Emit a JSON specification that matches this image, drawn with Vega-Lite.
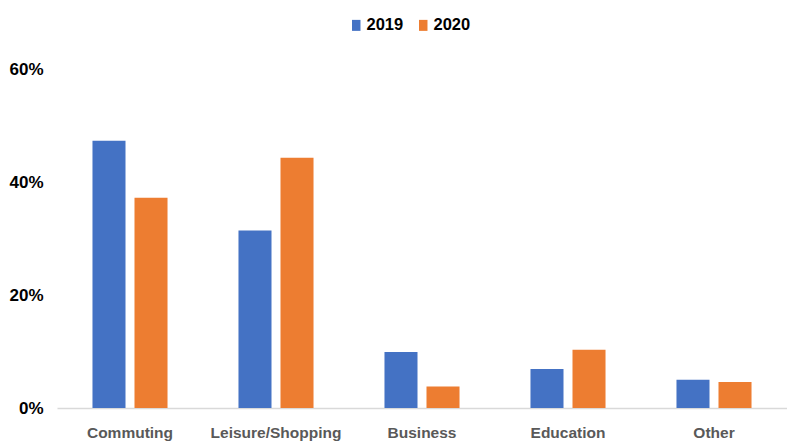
{
  "$schema": "https://vega.github.io/schema/vega-lite/v6.json",
  "width": 730,
  "height": 339,
  "autosize": {"type": "none"},
  "padding": {"left": 57, "top": 69, "right": 0, "bottom": 33},
  "background": "white",
  "config": {
    "view": {"stroke": null},
    "font": "Liberation Sans, Arial"
  },
  "data": {
    "values": [
      {"category": "Commuting", "year": "2019", "share": 0.473},
      {"category": "Commuting", "year": "2020", "share": 0.372},
      {"category": "Leisure/Shopping", "year": "2019", "share": 0.314},
      {"category": "Leisure/Shopping", "year": "2020", "share": 0.443},
      {"category": "Business", "year": "2019", "share": 0.099},
      {"category": "Business", "year": "2020", "share": 0.038},
      {"category": "Education", "year": "2019", "share": 0.069},
      {"category": "Education", "year": "2020", "share": 0.103},
      {"category": "Other", "year": "2019", "share": 0.050},
      {"category": "Other", "year": "2020", "share": 0.046}
    ]
  },
  "mark": {"type": "bar"},
  "encoding": {
    "x": {
      "field": "category",
      "type": "nominal",
      "sort": ["Commuting", "Leisure/Shopping", "Business", "Education", "Other"],
      "scale": {"paddingInner": 0.486, "paddingOuter": 0.243},
      "axis": {
        "title": null,
        "labelAngle": 0,
        "ticks": false,
        "domainColor": "#d9d9d9",
        "domainWidth": 1.5,
        "labelFont": "Liberation Sans, Arial",
        "labelFontSize": 15.5,
        "labelFontWeight": "bold",
        "labelColor": "#595959",
        "labelPadding": 17
      }
    },
    "xOffset": {
      "field": "year",
      "type": "nominal",
      "scale": {"paddingInner": 0.214, "paddingOuter": 0}
    },
    "y": {
      "field": "share",
      "type": "quantitative",
      "scale": {"domain": [0, 0.6], "nice": false},
      "axis": {
        "title": null,
        "values": [0, 0.2, 0.4, 0.6],
        "format": ".0%",
        "domain": false,
        "ticks": false,
        "grid": false,
        "labelFont": "Liberation Sans, Arial",
        "labelFontSize": 17,
        "labelFontWeight": "bold",
        "labelColor": "#000000",
        "labelPadding": 14
      }
    },
    "color": {
      "field": "year",
      "type": "nominal",
      "scale": {"domain": ["2019", "2020"], "range": ["#4472C4", "#ED7D31"]},
      "legend": {
        "title": null,
        "orient": "none",
        "direction": "horizontal",
        "legendX": 291,
        "legendY": -52,
        "symbolType": "M-0.77,-1H0.77V1H-0.77Z",
        "symbolSize": 121,
        "symbolStrokeWidth": 0,
        "labelFont": "Liberation Sans, Arial",
        "labelFontSize": 16.5,
        "labelFontWeight": "bold",
        "labelColor": "#000000",
        "labelOffset": 2,
        "columnPadding": 11
      }
    }
  }
}
